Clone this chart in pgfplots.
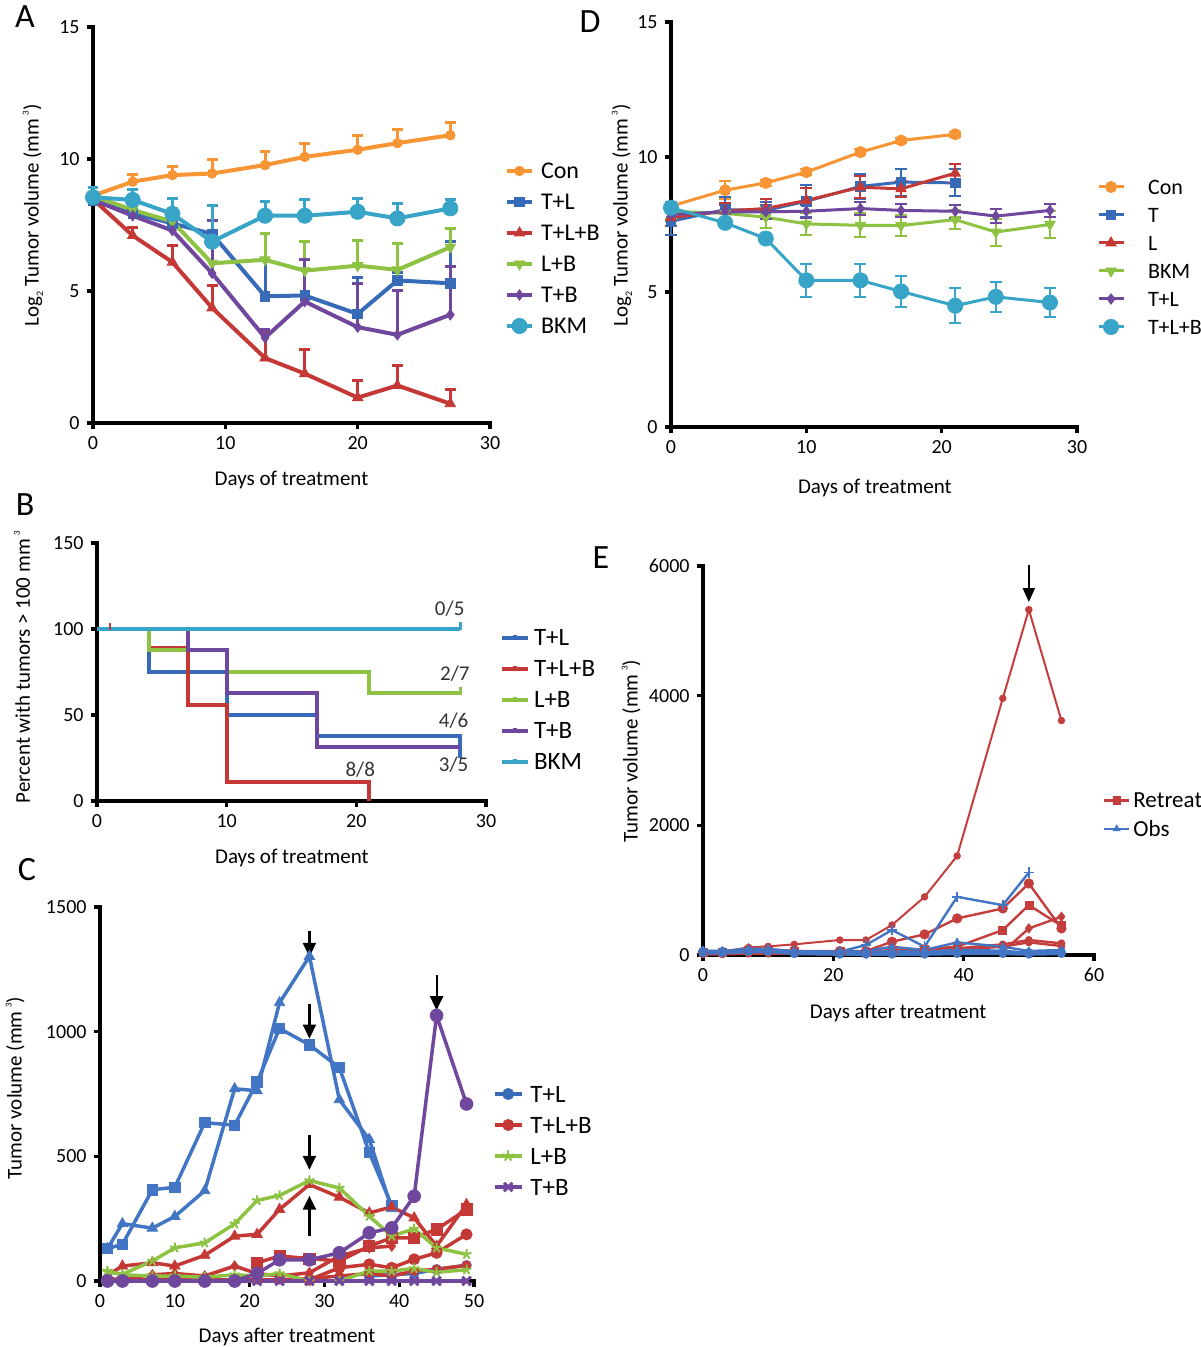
\documentclass[border=0pt]{standalone}
\usepackage{fontspec}
\setmainfont{Carlito}
\usepackage{pgfplots}
\pgfplotsset{compat=1.18}
\usetikzlibrary{arrows.meta}

\definecolor{cOr}{RGB}{247,148,52}
\definecolor{cBl}{RGB}{55,107,183}
\definecolor{cRd}{RGB}{196,56,53}
\definecolor{cGr}{RGB}{141,194,67}
\definecolor{cPu}{RGB}{111,71,157}
\definecolor{cCy}{RGB}{56,164,200}
\definecolor{eBl}{RGB}{66,118,196}
\definecolor{eRd}{RGB}{196,62,62}

\newcommand{\fs}[1]{\fontsize{#1}{#1}\selectfont}
\newcommand{\supthree}{\,\raisebox{1.0ex}{\fs{4.5}3}}
\newcommand{\subtwo}{\raisebox{-0.45ex}{\fs{5}2}}
\newcommand{\axlines}{\draw[black, line width=2.1pt, line cap=rect] (rel axis cs:0,1) -- (rel axis cs:0,0) -- (rel axis cs:1,0);}

\pgfplotsset{
  gp/.style={
    scale only axis, anchor=south west, clip=false,
    axis lines*=left,
    axis line style={line width=2.1pt, line cap=rect},
    tick align=outside,
    major tick length=3.2pt,
    tick style={line width=1.6pt, black},
    major tick style={line width=1.6pt, black},
    tick label style={font=\fs{10}},
    /pgf/number format/assume math mode=true,
    /pgf/number format/1000 sep={},
    label style={font=\fs{10.5}},
    legend cell align=left,
  },
  ebA/.style={error bars/.cd, y dir=plus, y explicit, error bar style={line width=1.5pt}, error mark options={rotate=90, line width=1.5pt, mark size=2.7pt}},
  ebD/.style={error bars/.cd, y dir=both, y explicit, error bar style={line width=1pt}, error mark options={rotate=90, line width=1pt, mark size=3pt}},
}

\begin{document}
\begin{tikzpicture}
\path[use as bounding box] (0,0) rectangle (600pt,673.5pt);

\node[font=\fs{17}] at (12.5pt,665pt) {A};
\node[font=\fs{17}] at (295pt,662.5pt) {D};
\node[font=\fs{17}] at (12.5pt,421pt) {B};
\node[font=\fs{17}] at (13.5pt,238.5pt) {C};
\node[font=\fs{17}] at (300.5pt,394.5pt) {E};

% ---------------- Panel A ----------------
\begin{axis}[gp, at={(46.5pt,462pt)}, width=198.5pt, height=198pt,
  xmin=0, xmax=30, ymin=0, ymax=15, xtick={0,10,20,30}, ytick={0,5,10,15},
  xlabel={Days of treatment},
  ylabel={Log\subtwo\ Tumor volume (mm\supthree)},
  xlabel style={at={(axis description cs:0.5,-0.144)}, anchor=center},
  ylabel style={at={(axis description cs:-0.151,0.525)}, anchor=center},
  legend style={at={(axis description cs:1.0378,0.6755)}, anchor=north west, draw=none, fill=none,
    inner sep=0pt, outer sep=0pt, column sep=3.5pt, row sep=0pt, font=\fs{12},
    nodes={inner xsep=0pt, inner ysep=1.6pt, text height=10pt, text depth=2.3pt}},
  legend image code/.code={\draw[mark repeat=2,mark phase=2,#1] plot coordinates {(0pt,0pt) (6.25pt,0pt) (12.5pt,0pt)};},
]
\axlines
\addplot[cOr, line width=2pt, mark=*, mark size=2.4pt, mark options={solid,line width=0.4pt}, ebA] table[x=x,y=y,y error=e] {
x y e
0 8.61 0.10
3 9.14 0.29
6 9.39 0.33
9 9.45 0.53
13 9.77 0.50
16 10.08 0.50
20 10.35 0.53
23 10.60 0.53
27 10.90 0.48
};
\addlegendentry{Con}
\addplot[cBl, line width=2pt, mark=square*, mark size=2.4pt, mark options={solid,line width=0.4pt}, ebA] table[x=x,y=y,y error=e] {
x y e
0 8.42 0.20
3 7.95 0.20
6 7.56 0.30
9 7.16 0.50
13 4.80 1.40
16 4.83 1.00
20 4.13 1.37
23 5.40 0.30
27 5.29 1.60
};
\addlegendentry{T+L}
\addplot[cRd, line width=2pt, mark=triangle*, mark size=3pt, mark options={solid,line width=0.4pt}, ebA] table[x=x,y=y,y error=e] {
x y e
0 8.48 0.10
3 7.10 0.30
6 6.09 0.65
9 4.36 0.84
13 2.46 0.98
16 1.87 0.92
20 0.96 0.65
23 1.42 0.74
27 0.73 0.53
};
\addlegendentry{T+L+B}
\addplot[cGr, line width=2pt, mark=triangle*, mark size=3pt, mark options={solid,line width=0.4pt,rotate=180}, ebA] table[x=x,y=y,y error=e] {
x y e
0 8.60 0.10
3 8.07 0.15
6 7.63 0.50
9 6.05 1.05
13 6.18 1.00
16 5.77 1.10
20 5.96 0.95
23 5.80 0.98
27 6.66 0.70
};
\addlegendentry{L+B}
\addplot[cPu, line width=2pt, mark=diamond*, mark size=2.6pt, mark options={solid,line width=0.4pt}, ebA] table[x=x,y=y,y error=e] {
x y e
0 8.45 0.10
3 7.85 0.20
6 7.29 0.30
9 5.67 2.00
13 3.23 0.30
16 4.60 1.60
20 3.63 1.66
23 3.34 1.68
27 4.10 1.82
};
\addlegendentry{T+B}
\addplot[cCy, line width=2pt, mark=*, mark size=3.8pt, mark options={solid,line width=0.4pt}, ebA] table[x=x,y=y,y error=e] {
x y e
0 8.55 0.37
3 8.45 0.41
6 7.92 0.60
9 6.87 1.36
13 7.85 0.53
16 7.85 0.60
20 8.00 0.52
23 7.75 0.57
27 8.13 0.33
};
\addlegendentry{BKM}
\end{axis}

% ---------------- Panel D ----------------
\begin{axis}[gp, at={(335.5pt,460pt)}, width=203pt, height=202.5pt,
  xmin=0, xmax=30, ymin=0, ymax=15, xtick={0,10,20,30}, ytick={0,5,10,15},
  xlabel={Days of treatment},
  ylabel={Log\subtwo\ Tumor volume (mm\supthree)},
  xlabel style={at={(axis description cs:0.502,-0.151)}, anchor=center},
  ylabel style={at={(axis description cs:-0.121,0.523)}, anchor=center},
  legend style={at={(axis description cs:1.0493,0.6272)}, anchor=north west, draw=none, fill=none,
    inner sep=0pt, outer sep=0pt, column sep=11.5pt, row sep=0pt, font=\fs{11},
    nodes={inner xsep=0pt, inner ysep=1.35pt, text height=9.2pt, text depth=2.1pt}},
  legend image code/.code={\draw[mark repeat=2,mark phase=2,#1] plot coordinates {(0pt,0pt) (6.25pt,0pt) (12.5pt,0pt)};},
]
\axlines
\addplot[cOr, line width=1.5pt, mark=*, mark size=2.8pt, mark options={solid,line width=0.4pt}, ebD] table[x=x,y=y,y error=e] {
x y e
0 8.18 0.10
4 8.77 0.33
7 9.04 0.10
10 9.44 0.10
14 10.18 0.10
17 10.61 0.10
21 10.84 0.10
};
\addlegendentry{Con}
\addplot[cBl, line width=1.5pt, mark=square*, mark size=2.4pt, mark options={solid,line width=0.4pt}, ebD] table[x=x,y=y,y error=e] {
x y e
0 7.62 0.50
4 8.05 0.45
7 8.02 0.30
10 8.36 0.60
14 8.91 0.45
17 9.07 0.50
21 9.04 0.50
};
\addlegendentry{T}
\addplot[cRd, line width=1.5pt, mark=triangle*, mark size=3pt, mark options={solid,line width=0.4pt}, ebD] table[x=x,y=y,y error=e] {
x y e
0 7.75 0.30
4 8.00 0.30
7 8.09 0.35
10 8.39 0.45
14 8.88 0.40
17 8.82 0.30
21 9.40 0.35
};
\addlegendentry{L}
\addplot[cGr, line width=1.5pt, mark=triangle*, mark size=3pt, mark options={solid,line width=0.4pt,rotate=180}, ebD] table[x=x,y=y,y error=e] {
x y e
0 7.99 0.30
4 7.91 0.30
7 7.77 0.40
10 7.52 0.40
14 7.47 0.45
17 7.46 0.40
21 7.68 0.35
24 7.22 0.50
28 7.50 0.50
};
\addlegendentry{BKM}
\addplot[cPu, line width=1.5pt, mark=diamond*, mark size=2.6pt, mark options={solid,line width=0.4pt}, ebD] table[x=x,y=y,y error=e] {
x y e
0 7.87 0.25
4 7.97 0.25
7 7.97 0.25
10 7.99 0.25
14 8.09 0.25
17 8.02 0.25
21 7.99 0.25
24 7.81 0.25
28 8.02 0.25
};
\addlegendentry{T+L}
\addplot[cCy, line width=1.5pt, mark=*, mark size=3.8pt, mark options={solid,line width=0.4pt}, ebD] table[x=x,y=y,y error=e] {
x y e
0 8.12 0.20
4 7.56 0.15
7 6.98 0.15
10 5.43 0.61
14 5.43 0.60
17 5.02 0.59
21 4.49 0.65
24 4.82 0.55
28 4.61 0.52
};
\addlegendentry{T+L+B}
\end{axis}

% ---------------- Panel B ----------------
\begin{axis}[gp, at={(48.5pt,273pt)}, width=194.5pt, height=129pt,
  xmin=0, xmax=30, ymin=0, ymax=150, xtick={0,10,20,30}, ytick={0,50,100,150},
  xlabel={Days of treatment},
  ylabel={Percent with tumors > 100 mm\supthree},
  xlabel style={at={(axis description cs:0.501,-0.221)}, anchor=center},
  ylabel style={at={(axis description cs:-0.193,0.519)}, anchor=center},
  legend style={at={(axis description cs:1.036,0.6919)}, anchor=north west, draw=none, fill=none,
    inner sep=0pt, outer sep=0pt, column sep=2pt, row sep=0pt, font=\fs{12.5},
    nodes={inner xsep=0pt, inner ysep=1.35pt, text height=10.4pt, text depth=2.4pt}},
  legend image code/.code={\draw[#1] (0pt,0pt) -- (13pt,0pt); \draw[#1] (6.5pt,0pt) -- (6.5pt,1.6pt);},
]
\axlines
\addplot[cBl, line width=2pt, const plot] coordinates {(0,100) (4,75) (10,50) (17,37.5) (28,37.5) (28,25)};
\addlegendentry{T+L}
\addplot[cRd, line width=2pt, const plot] coordinates {(0,100) (4,88.9) (7,55.6) (10,11.1) (21,11.1) (21,0)};
\addlegendentry{T+L+B}
\addplot[cGr, line width=2pt, const plot] coordinates {(0,100) (4,87.5) (10,75) (21,62.5) (28,62.5)};
\addlegendentry{L+B}
\addplot[cPu, line width=2pt, const plot] coordinates {(0,100) (7,87.5) (10,62.5) (17,31.25) (28,31.25)};
\addlegendentry{T+B}
\addplot[cCy, line width=2pt, const plot] coordinates {(0,100) (28,100)};
\addlegendentry{BKM}
\addplot[cCy, line width=1.5pt, only marks, mark=|, mark size=2pt, forget plot] coordinates {(28,101.5)};
\addplot[cGr, line width=1.5pt, only marks, mark=|, mark size=2pt, forget plot] coordinates {(28,64)};
\addplot[cRd, line width=1.2pt, only marks, mark=|, mark size=1.8pt, forget plot] coordinates {(1,101.5)};
\node[font=\fs{10.5}, text=black!80] at (axis cs:27.2,111.6) {0/5};
\node[font=\fs{10.5}, text=black!80] at (axis cs:27.6,74.3) {2/7};
\node[font=\fs{10.5}, text=black!80] at (axis cs:27.5,46.7) {4/6};
\node[font=\fs{10.5}, text=black!80] at (axis cs:27.5,21) {3/5};
\node[font=\fs{10.5}, text=black!80] at (axis cs:20.3,18.3) {8/8};
\end{axis}

% ---------------- Panel C ----------------
\begin{axis}[gp, at={(50pt,33pt)}, width=187pt, height=187pt,
  xmin=0, xmax=50, ymin=0, ymax=1500, xtick={0,10,20,30,40,50}, ytick={0,500,1000,1500},
  xlabel={Days after treatment},
  ylabel={Tumor volume (mm\supthree)},
  xlabel style={at={(axis description cs:0.5,-0.150)}, anchor=center},
  ylabel style={at={(axis description cs:-0.227,0.516)}, anchor=center},
  legend style={at={(axis description cs:1.0508,0.5414)}, anchor=north west, draw=none, fill=none,
    inner sep=0pt, outer sep=0pt, column sep=3.5pt, row sep=0pt, font=\fs{12.5},
    nodes={inner xsep=0pt, inner ysep=1.35pt, text height=10.4pt, text depth=2.4pt}},
  legend image code/.code={\draw[mark repeat=2,mark phase=2,#1] plot coordinates {(0pt,0pt) (6.75pt,0pt) (13.5pt,0pt)};},
  every axis plot/.append style={line width=1.75pt, mark options={solid,line width=0.4pt}},
]
\axlines
\addlegendimage{cBl, line width=1.75pt, mark=*, mark size=2.8pt, mark options={solid,line width=0.4pt}}
\addlegendentry{T+L}
\addlegendimage{cRd, line width=1.75pt, mark=*, mark size=2.8pt, mark options={solid,line width=0.4pt}}
\addlegendentry{T+L+B}
\addlegendimage{cGr, line width=1.75pt, mark=star, mark size=2.8pt, mark options={solid,line width=1pt}}
\addlegendentry{L+B}
\addlegendimage{cPu, line width=1.75pt, mark=x, mark size=3pt, mark options={solid,line width=1.5pt}}
\addlegendentry{T+B}
% T+L
\addplot[eBl, mark=square*, mark size=2.6pt, forget plot] coordinates {(1,130) (3,147) (7,366) (10,376) (14,635) (18,625) (21,798) (24,1013) (28,947) (32,856) (36,515) (39,303)};
\addplot[eBl, mark=triangle*, mark size=3pt, forget plot] coordinates {(1,130) (3,230) (7,212) (10,259) (14,362) (18,771) (21,763) (24,1116) (28,1302) (32,727) (36,568) (39,290)};
\addplot[eBl, mark=*, mark size=2.4pt, forget plot] coordinates {(36,20) (39,25) (42,30) (45,47) (49,63)};
% T+L+B
\addplot[cRd, mark=*, mark size=2.2pt, forget plot] coordinates {(1,0) (3,5) (7,5) (10,5) (14,5) (18,5) (21,5) (24,5) (28,10) (32,20) (36,30) (39,20) (42,40) (45,47) (49,63)};
\addplot[cRd, mark=diamond*, mark size=2.6pt, forget plot] coordinates {(1,5) (3,10) (7,25) (10,30) (14,20) (18,60) (21,30) (24,20) (28,33) (32,100) (36,133) (39,140)};
\addplot[cRd, mark=*, mark size=2.8pt, forget plot] coordinates {(28,5) (32,53) (36,67) (39,53) (42,87) (45,113) (49,187)};
\addplot[cRd, mark=square*, mark size=2.8pt, forget plot] coordinates {(21,73) (24,100) (28,90) (32,80) (36,140) (39,173) (42,173) (45,207) (49,287)};
\addplot[cRd, mark=triangle*, mark size=3pt, forget plot] coordinates {(1,23) (3,60) (7,73) (10,60) (14,103) (18,180) (21,187) (24,287) (28,387) (32,336) (36,273) (39,297) (42,253) (45,140) (49,307)};
% L+B
\addplot[cGr, mark=star, mark size=2.6pt, mark options={solid,line width=1pt}, forget plot] coordinates {(1,40) (3,25) (7,20) (10,20) (14,15) (18,25) (21,20) (24,30) (28,0) (32,0) (36,40) (39,40) (42,50) (45,35) (49,45)};
\addplot[cGr, mark=star, mark size=2.6pt, mark options={solid,line width=1pt}, forget plot] coordinates {(1,36) (3,27) (7,80) (10,133) (14,153) (18,229) (21,323) (24,343) (28,403) (32,373) (36,260) (39,180) (42,209) (45,133) (49,107)};
% T+B
\addplot[cPu, mark=x, mark size=3pt, mark options={solid,line width=1.5pt}, forget plot] coordinates {(1,0) (3,0) (7,0) (10,0) (14,0) (18,0) (21,0) (24,0) (28,0) (32,0) (36,0) (39,0) (42,0) (45,0) (49,0)};
\addplot[cPu, mark=*, mark size=3.2pt, forget plot] coordinates {(1,0) (3,0) (7,0) (10,0) (14,0) (18,0) (21,30) (24,85) (28,85) (32,113) (36,193) (39,213) (42,340) (45,1065) (49,710)};
% arrows
\draw[black, line width=1.1pt, -{Triangle[length=7pt,width=6.5pt]}] (axis cs:28,1402) -- (axis cs:28,1300);
\draw[black, line width=1.1pt, -{Triangle[length=7pt,width=6.5pt]}] (axis cs:28,1112) -- (axis cs:28,972);
\draw[black, line width=1.1pt, -{Triangle[length=7pt,width=6.5pt]}] (axis cs:28,584) -- (axis cs:28,446);
\draw[black, line width=1.1pt, -{Triangle[length=7pt,width=6.5pt]}] (axis cs:28,181) -- (axis cs:28,342);
\draw[black, line width=1.1pt, -{Triangle[length=7pt,width=6.5pt]}] (axis cs:45,1228) -- (axis cs:45,1086);
\end{axis}

% ---------------- Panel E ----------------
\begin{axis}[gp, at={(351.5pt,196pt)}, width=195.5pt, height=194.5pt,
  xmin=0, xmax=60, ymin=0, ymax=6000, xtick={0,20,40,60}, ytick={0,2000,4000,6000},
  xlabel={Days after treatment},
  ylabel={Tumor volume (mm\supthree)},
  xlabel style={at={(axis description cs:0.499,-0.149)}, anchor=center},
  ylabel style={at={(axis description cs:-0.184,0.524)}, anchor=center},
  legend style={at={(axis description cs:1.023,0.4344)}, anchor=north west, draw=none, fill=none,
    inner sep=0pt, outer sep=0pt, column sep=1.5pt, row sep=0pt, font=\fs{11.5},
    nodes={inner xsep=0pt, inner ysep=1.3pt, text height=9.5pt, text depth=2.2pt}},
  legend image code/.code={\draw[mark repeat=2,mark phase=2,#1] plot coordinates {(0pt,0pt) (6.25pt,0pt) (12.5pt,0pt)};},
  every axis plot/.append style={line width=1.2pt, mark options={solid,line width=0.3pt}},
]
\axlines
\addlegendimage{eRd, line width=1.2pt, mark=square*, mark size=1.8pt, mark options={solid,line width=0.3pt}}
\addlegendentry{Retreat}
\addlegendimage{eBl, line width=1.2pt, mark=triangle*, mark size=2pt, mark options={solid,line width=0.3pt}}
\addlegendentry{Obs}
% Retreat
\addplot[eRd, mark=*, mark size=1.8pt, forget plot] coordinates {(0,10) (3,10) (7,20) (10,20) (14,20) (21,10) (25,10) (29,30) (34,20) (39,30) (46,20) (50,30) (55,40)};
\addplot[eRd, mark=*, mark size=1.8pt, forget plot] coordinates {(0,20) (3,20) (7,40) (10,40) (14,30) (21,30) (25,30) (29,50) (34,60) (39,80) (46,128) (50,195) (55,138)};
\addplot[eRd, mark=*, mark size=1.8pt, forget plot] coordinates {(0,30) (3,30) (7,50) (10,50) (14,40) (21,40) (25,40) (29,60) (34,80) (39,103) (46,164) (50,231) (55,180)};
\addplot[eRd, mark=diamond*, mark size=2.4pt, forget plot] coordinates {(0,30) (3,30) (7,60) (10,60) (14,40) (21,30) (25,20) (29,60) (34,60) (39,40) (46,51) (50,410) (55,590)};
\addplot[eRd, mark=square*, mark size=2pt, forget plot] coordinates {(0,40) (3,40) (7,70) (10,80) (14,50) (21,50) (25,40) (29,80) (34,90) (39,128) (46,385) (50,769) (55,451)};
\addplot[eRd, mark=*, mark size=2.4pt, forget plot] coordinates {(0,40) (3,40) (7,80) (10,90) (14,60) (21,60) (25,60) (29,205) (34,318) (39,564) (46,718) (50,1103) (55,410)};
\addplot[eRd, line width=1pt, mark=*, mark size=1.7pt, forget plot] coordinates {(0,50) (3,50) (7,117) (10,133) (14,164) (21,231) (25,231) (29,462) (34,897) (39,1528) (46,3958) (50,5327) (55,3616)};
% Obs
\addplot[eBl, line width=1.5pt, mark=*, mark size=2pt, forget plot] coordinates {(0,30) (3,30) (7,50) (10,50) (14,20) (21,10) (25,10) (29,10) (34,10) (39,20) (46,20) (50,10) (55,20)};
\addplot[eBl, line width=1.5pt, mark=triangle*, mark size=2.2pt, forget plot] coordinates {(0,40) (3,40) (7,60) (10,60) (14,30) (21,30) (25,30) (29,60) (34,40) (39,80) (46,60) (50,30) (55,40)};
\addplot[eBl, line width=1.5pt, mark=*, mark size=2pt, forget plot] coordinates {(0,60) (3,60) (7,70) (10,70) (14,40) (21,40) (25,40) (29,30) (34,30) (39,40) (46,40) (50,40) (55,50)};
\addplot[eBl, line width=1.2pt, mark=triangle*, mark size=2.2pt, forget plot] coordinates {(0,50) (3,50) (7,80) (10,80) (14,50) (21,50) (25,60) (29,128) (34,77) (39,195) (46,128) (50,62) (55,77)};
\addplot[eBl, line width=1.2pt, mark=+, mark size=2.6pt, mark options={solid,line width=0.8pt}, forget plot] coordinates {(0,60) (3,60) (7,100) (10,90) (14,60) (21,51) (25,154) (29,385) (34,128) (39,897) (46,769) (50,1272)};
\draw[black, line width=1pt, -{Triangle[length=7pt,width=6pt]}] (axis cs:50,6016) -- (axis cs:50,5444);
\end{axis}
\end{tikzpicture}
\end{document}
